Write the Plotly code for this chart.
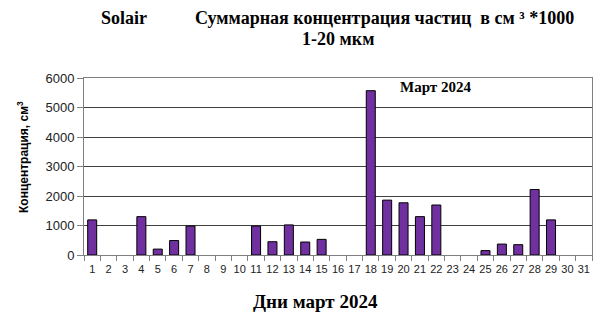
import plotly.graph_objects as go

days = [str(d) for d in range(1, 32)]
values = [1190, None, None, 1300, 200, 490, 980, None, None, None, 980, 450, 1020, 440, 530,
          None, None, 5570, 1860, 1770, 1300, 1695, None, None, 150, 370, 350, 2220, 1190, None, None]
y_ticks = [0, 1000, 2000, 3000, 4000, 5000, 6000]

serif = "Liberation Serif, Times New Roman, serif"
sans = "Liberation Sans, Arial, sans-serif"

W, H = 614, 330
l, r, t, b = 84, 22, 78, 75
pw, ph = W - l - r, H - t - b

fig = go.Figure()
fig.add_trace(go.Bar(
    x=days, y=values,
    marker=dict(color="#7030A0", line=dict(color="#000000", width=1)),
    width=0.55,
))

fig.update_layout(
    width=W, height=H,
    margin=dict(l=l, r=r, t=t, b=b, autoexpand=False),
    paper_bgcolor="white", plot_bgcolor="white",
    showlegend=False,
    xaxis=dict(
        type="category", tickson="boundaries", ticks="outside", ticklen=5,
        tickcolor="#808080", showline=True, linecolor="#808080", mirror=True,
        showgrid=False, tickangle=0, automargin=False, ticklabelstandoff=4,
        tickfont=dict(family=sans, size=11, color="#222222"),
    ),
    yaxis=dict(
        range=[0, 6000], tickvals=y_ticks, ticks="outside", ticklen=6,
        tickcolor="#808080", showline=True, linecolor="#808080", mirror=True,
        showgrid=True, gridcolor="#404040", gridwidth=1,
        zeroline=False, automargin=False,
        tickfont=dict(family=sans, size=13, color="#222222"),
    ),
)

def px(xp):
    return (xp - l) / pw

def py(yp):
    return (H - b - yp) / ph

def note(text, x, y, size, family=serif, angle=0):
    fig.add_annotation(text=text, x=px(x), y=py(y), xref="paper", yref="paper",
                       xanchor="center", yanchor="middle", showarrow=False, textangle=angle,
                       font=dict(family=family, size=size, color="#000000"))

note("<b>Solair</b>", 124, 18, 18)
note("<b>Суммарная концентрация частиц  в см ³ *1000</b>", 384, 18, 18)
note("<b>1-20 мкм</b>", 338, 39, 18)
note("<b>Март 2024</b>", 435, 87, 15)
note("<b>Дни март 2024</b>", 315, 301, 19)
note("<b>Концентрация, см<sup>3</sup></b>", 23, 157, 12, family=sans, angle=-90)

fig.write_html("out.html")
